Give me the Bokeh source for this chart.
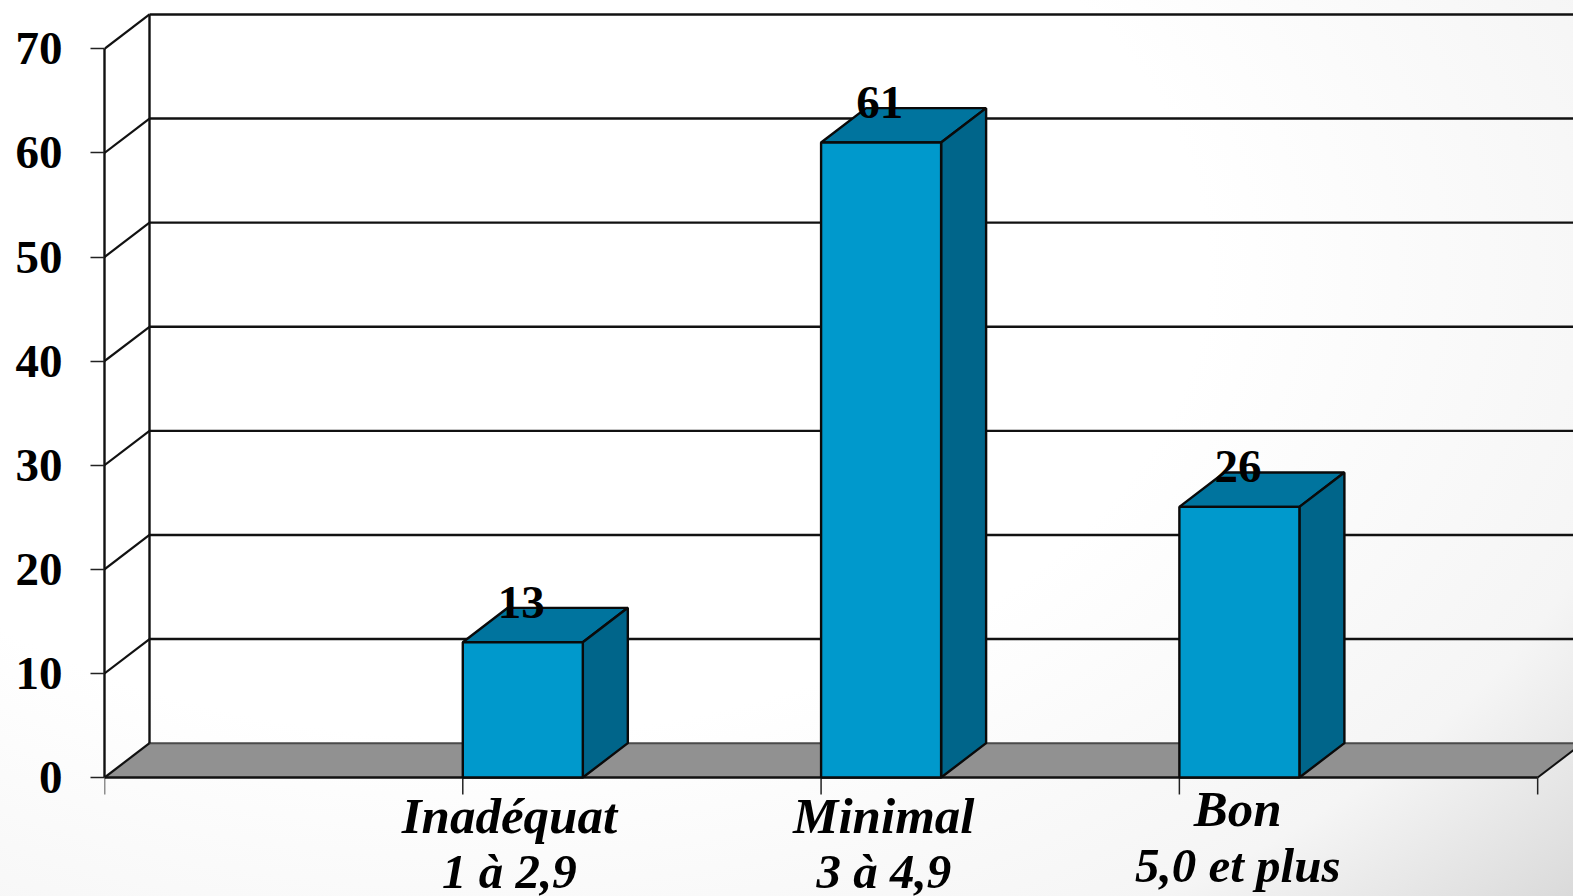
from bokeh.plotting import figure
from bokeh.models import Range1d, FixedTicker
from bokeh.embed import file_html
from bokeh.resources import INLINE
from bokeh.core.properties import value

categories = ["Inadéquat", "Minimal", "Bon"]
sublabels = ["1 à 2,9", "3 à 4,9", "5,0 et plus"]
values = [13, 61, 26]
positions = [1, 2, 3]
y_ticks = [0, 10, 20, 30, 40, 50, 60, 70]
x_ticks = [0, 1, 2, 3, 4]

DX, DY = 0.1256, 3.3        # depth of the 3D projection in data units
BAR_W = 0.335
SERIF = "Liberation Serif"
TICK_DOWN = 1.63            # length of the x ticks in data units

p = figure(width=1573, height=896, output_backend="svg", toolbar_location=None,
           x_range=Range1d(0, 4.1), y_range=Range1d(-11.43, 74.64),
           x_axis_location=None,
           min_border_left=104, min_border_bottom=0, min_border_top=0, min_border_right=0,
           background_fill_alpha=0, border_fill_alpha=0, outline_line_color=None)
p.styles = {"background": "radial-gradient(ellipse 85% 95% at 30% 30%, #ffffff 55%, #f5f5f5 90%, #d8d8d8 112%)"}
p.grid.visible = False

# floor
p.patch([0, 4, 4 + DX, DX], [0, 0, DY, DY], fill_color="#919191", line_color=None)
p.line([DX, 4 + DX], [DY, DY], line_color="#4a4a4a", line_width=2)
p.line([4, 4 + DX], [0, DY], line_color="#111111", line_width=2)

# back wall: grid lines and side lines
for v in y_ticks[1:]:
    p.line([DX, 4.2], [v + DY, v + DY], line_color="#111111", line_width=2.4)
    p.line([0, DX], [v, v + DY], line_color="#111111", line_width=2.2)
p.line([0, DX], [0, DY], line_color="#111111", line_width=2.2)
p.line([DX, DX], [DY, y_ticks[-1] + DY], line_color="#111111", line_width=2.4)

# x axis line and ticks
p.line([x_ticks[0], x_ticks[-1]], [0, 0], line_color="#111111", line_width=2.6)
p.segment(x_ticks, [0] * len(x_ticks), x_ticks, [-TICK_DOWN] * len(x_ticks),
          line_color="#222222", line_width=1.5)

# 3D bars
for x, v in zip(positions, values):
    x1 = x + BAR_W
    p.patch([x, x1, x1 + DX, x + DX], [v, v, v + DY, v + DY],
            fill_color="#00749e", line_color="#0a0a0a", line_width=2.4)
    p.patch([x1, x1 + DX, x1 + DX, x1], [0, DY, v + DY, v],
            fill_color="#00658a", line_color="#0a0a0a", line_width=2.4)
    p.quad(left=x, right=x1, bottom=0, top=v,
           fill_color="#0099cc", line_color="#0a0a0a", line_width=2.4)

# value labels
p.text([x + BAR_W / 2 - 0.004 for x in positions], [v + 3.85 for v in values],
       text=[str(v) for v in values], text_font=value(SERIF), text_font_style="bold",
       text_font_size="47px", text_color="#000000", text_align="center",
       text_baseline="middle", level="overlay")

# y axis
ya = p.yaxis[0]
ya.ticker = FixedTicker(ticks=y_ticks)
ya.bounds = (0, 70)
ya.axis_line_color = "#111111"
ya.axis_line_width = 2.4
ya.major_tick_line_color = "#222222"
ya.major_tick_line_width = 1.5
ya.major_tick_in = 0
ya.major_tick_out = 14
ya.minor_tick_line_color = None
ya.major_label_standoff = 28
ya.major_label_text_font = SERIF
ya.major_label_text_font_style = "bold"
ya.major_label_text_font_size = "47px"
ya.major_label_text_color = "#000000"

# category labels (two lines, offset from the ticks as in the original)
label_dx = [0.130, 0.175, 0.163]
line1_dy = [-3.65, -3.65, -3.0]
line2_dy = [-9.0, -9.0, -8.45]
for txts, dys, size in ((categories, line1_dy, "51px"), (sublabels, line2_dy, "49px")):
    p.text([x + d for x, d in zip(positions, label_dx)], dys, text=txts,
           text_font=value(SERIF), text_font_style="bold italic", text_font_size=size,
           text_color="#000000", text_align="center", text_baseline="middle", level="overlay")

open("out.html", "w").write(file_html(p, INLINE))
